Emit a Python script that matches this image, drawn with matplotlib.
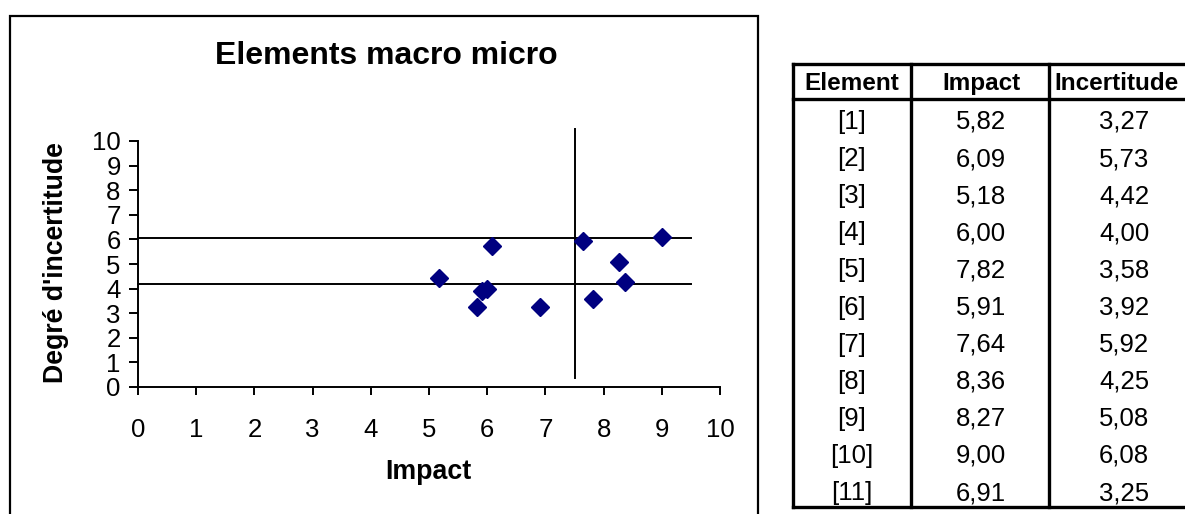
import matplotlib.pyplot as plt
from matplotlib import font_manager
from matplotlib.lines import Line2D
from matplotlib.patches import Rectangle

elements = ['[1]', '[2]', '[3]', '[4]', '[5]', '[6]', '[7]', '[8]', '[9]', '[10]', '[11]']
impact = [5.82, 6.09, 5.18, 6.00, 7.82, 5.91, 7.64, 8.36, 8.27, 9.00, 6.91]
incertitude = [3.27, 5.73, 4.42, 4.00, 3.58, 3.92, 5.92, 4.25, 5.08, 6.08, 3.25]

# reference lines of the matrix
h_levels = [6.05, 4.17]
h_span = [0, 9.5]
v_level = 7.5
v_span = [0.35, 10.5]

W, H = 1185, 514


def fx(px):
    return px / W


def fy(py):
    return 1 - py / H


plt.rcParams['font.family'] = ['Liberation Sans', 'DejaVu Sans']
names = {f.name for f in font_manager.fontManager.ttflist}
narrow = 'Liberation Sans Narrow' if 'Liberation Sans Narrow' in names else 'Liberation Sans'

fig = plt.figure(figsize=(W / 100, H / 100), dpi=100)

# chart frame
fig.patches.append(Rectangle((fx(10), fy(530)), fx(758) - fx(10), fy(16) - fy(530),
                             transform=fig.transFigure, fill=False, edgecolor='black',
                             linewidth=1.6))

ax = fig.add_axes([fx(138), fy(387), fx(720) - fx(138), fy(141) - fy(387)])
ax.set_xlim(0, 10)
ax.set_ylim(0, 10)
ax.set_xticks(range(11))
ax.set_yticks(range(11))
for s in ['top', 'right']:
    ax.spines[s].set_visible(False)
for s in ['left', 'bottom']:
    ax.spines[s].set_linewidth(1.4)
ax.tick_params(axis='x', direction='out', length=6, width=1.4, pad=16, labelsize=18.5)
ax.tick_params(axis='y', direction='out', length=6.5, width=1.4, pad=6, labelsize=18.5)

for lvl in h_levels:
    ax.plot(h_span, [lvl, lvl], color='black', linewidth=1.4, clip_on=False)
ax.plot([v_level, v_level], v_span, color='black', linewidth=1.4, clip_on=False)

ax.plot(impact, incertitude, linestyle='none', marker='D', markersize=9.5,
        color='#000080', clip_on=False, zorder=3)

fig.text(fx(386), fy(56), 'Elements macro micro', ha='center', va='center',
         fontsize=23, fontweight='bold')
fig.text(fx(428), fy(472), 'Impact', ha='center', va='center',
         fontsize=19.3, fontweight='bold')
fig.text(fx(56), fy(263), "Degré d'incertitude", ha='center', va='center',
         rotation=90, fontsize=19.2, fontweight='bold')

# table
col_edges = [793, 911, 1049, 1200]
top, head, bottom = 64, 99, 507
lw = 2.4
for x in col_edges:
    fig.add_artist(Line2D([fx(x), fx(x)], [fy(top), fy(bottom)], color='black',
                          linewidth=lw, transform=fig.transFigure))
for y in [top, head, bottom]:
    fig.add_artist(Line2D([fx(col_edges[0]), fx(col_edges[-1])], [fy(y), fy(y)],
                          color='black', linewidth=lw, transform=fig.transFigure))

headers = ['Element', 'Impact', 'Incertitude']
centers = [852, 981, 1124]
head_x = [852, 981, 1117]
for c, t in zip(head_x, headers):
    fig.text(fx(c), fy(90), t, ha='center', va='baseline', fontsize=17.5,
             fontweight='bold', family=narrow)

row0, step = 122, 37.1
for i, (e, a, b) in enumerate(zip(elements, impact, incertitude)):
    y = fy(row0 + i * step)
    fig.text(fx(centers[0]), y, e, ha='center', va='center', fontsize=18.5, family=narrow)
    fig.text(fx(centers[1]), y, f'{a:.2f}'.replace('.', ','), ha='center', va='center',
             fontsize=18.5, family=narrow)
    fig.text(fx(centers[2]), y, f'{b:.2f}'.replace('.', ','), ha='center', va='center',
             fontsize=18.5, family=narrow)

fig.savefig('out.png', dpi=100)
